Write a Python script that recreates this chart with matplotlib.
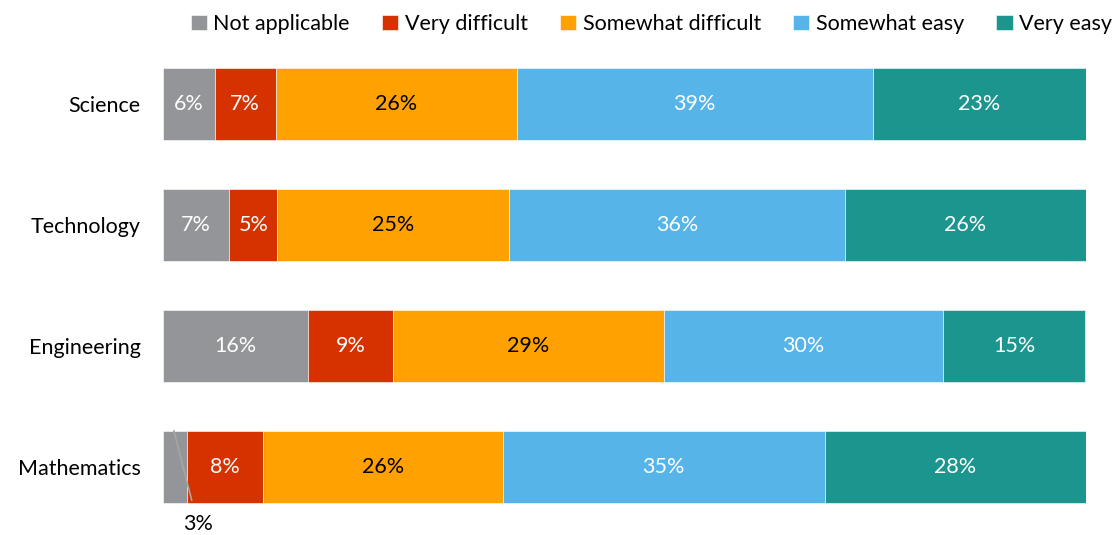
import matplotlib
matplotlib.use("Agg")
import matplotlib.pyplot as plt
import numpy as np

categories = ["Science", "Technology", "Engineering", "Mathematics"]
series_names = ["Not applicable", "Very difficult", "Somewhat difficult", "Somewhat easy", "Very easy"]
not_applicable = [5.6, 7.2, 15.7, 2.6]
very_difficult = [6.6, 5.2, 9.2, 8.2]
somewhat_difficult = [26.1, 25.1, 29.4, 26.0]
somewhat_easy = [38.6, 36.4, 30.2, 34.9]
very_easy = [23.1, 26.1, 15.4, 28.3]
colors = ["#939598", "#D63200", "#FFA100", "#56B4E9", "#1B958D"]
label_colors = ["white", "white", "black", "white", "white"]

series = [not_applicable, very_difficult, somewhat_difficult, somewhat_easy, very_easy]

plt.rcParams['font.family'] = ['Lato', 'DejaVu Sans']
FS = 15.5
fig = plt.figure(figsize=(11.12, 5.35), dpi=100)
ax = fig.add_axes([163/1112, 1 - 527.5/535, 923/1112, 484/535])

y = np.arange(len(categories))
left = np.zeros(len(categories))
handles = []
for vals, name, c, lc in zip(series, series_names, colors, label_colors):
    vals = np.array(vals)
    bars = ax.barh(y, vals, left=left, height=0.59, color=c, label=name,
                   edgecolor="white", linewidth=0.4)
    handles.append(bars)
    for i, (v, l) in enumerate(zip(vals, left)):
        if v >= 4:
            ax.text(l + v / 2, y[i], f"{v:.0f}%", ha="center", va="center",
                    color=lc, fontsize=FS)
    left = left + vals

# small label for Mathematics "Not applicable"
mi = categories.index("Mathematics")
v = not_applicable[mi]
ax.annotate(f"{v:.0f}%", xy=(v * 0.45, y[mi] - 0.3), xytext=(v * 1.45, y[mi] + 0.47),
            ha="center", va="center", fontsize=FS, color="black",
            arrowprops=dict(arrowstyle="-", color="#A6A6A6", lw=1.2,
                            shrinkA=8, shrinkB=0),
            annotation_clip=False)

ax.set_xlim(0, 100)
ax.set_ylim(3.5, -0.5)
ax.set_yticks(y)
ax.set_yticklabels(categories, fontsize=FS)
ax.tick_params(axis="y", length=0, pad=16)
ax.set_xticks([])
for s in ax.spines.values():
    s.set_visible(False)

fig.legend(handles=handles, labels=series_names, loc="center right",
           bbox_to_anchor=(1.0, 1 - 24/535), ncol=5, frameon=False, fontsize=FS,
           handlelength=0.75, handleheight=0.75, handletextpad=0.3,
           columnspacing=1.5, borderaxespad=0.0, borderpad=0.0)

fig.savefig("out.png", dpi=100)
